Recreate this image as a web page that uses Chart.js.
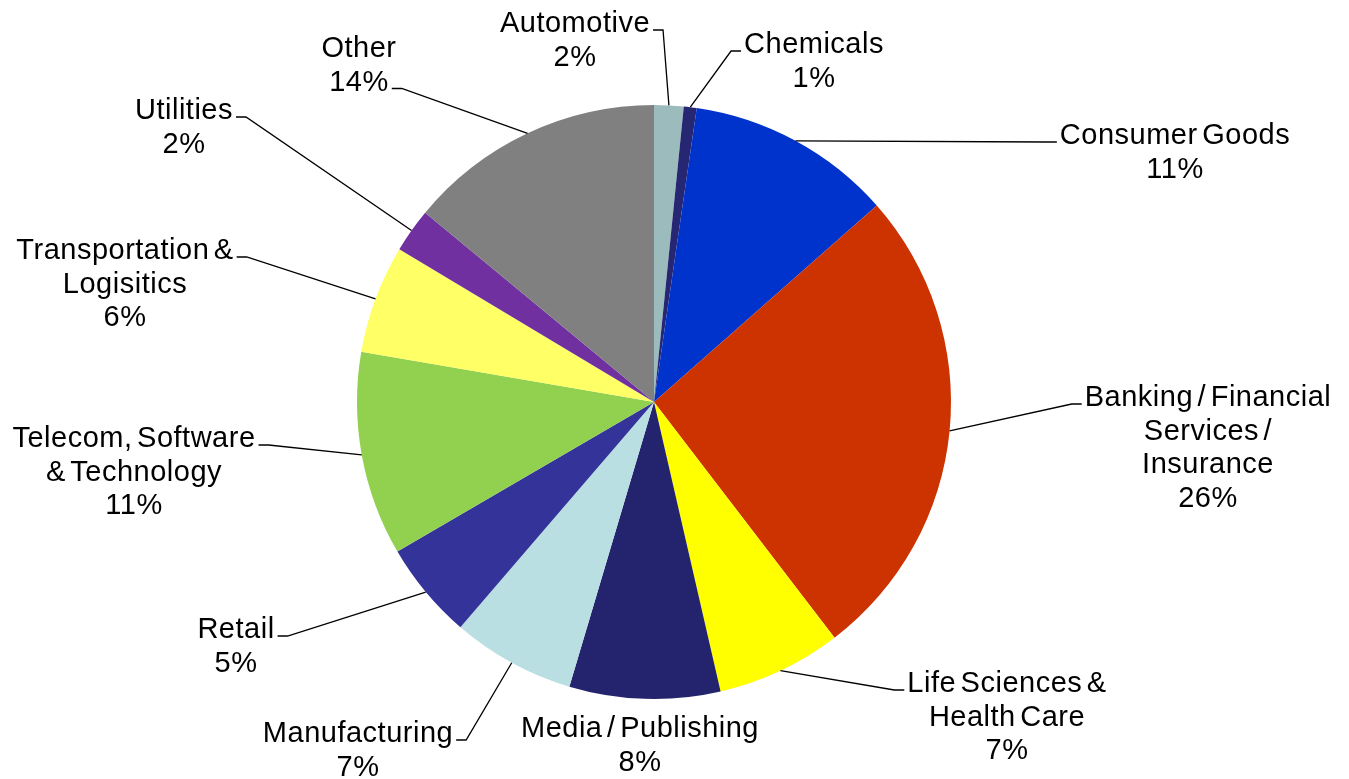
<!DOCTYPE html>
<html>
<head>
<meta charset="utf-8">
<script src="https://cdn.jsdelivr.net/npm/chart.js@4.4.0/dist/chart.umd.min.js"></script>
<style>
  html, body { margin: 0; padding: 0; background: #ffffff; }
  #wrap { width: 1349px; height: 779px; }
</style>
</head>
<body>
<div id="wrap"><canvas id="industryPie" width="1349" height="779"></canvas></div>
<script>
// industry names (multi-line where the label wraps)
const industries = [
    ['Automotive'],
    ['Chemicals'],
    ['Consumer Goods'],
    ['Banking / Financial', 'Services /', 'Insurance'],
    ['Life Sciences &', 'Health Care'],
    ['Media / Publishing'],
    ['Manufacturing'],
    ['Retail'],
    ['Telecom, Software', '& Technology'],
    ['Transportation &', 'Logisitics'],
    ['Utilities'],
    ['Other']
];

// share of each industry
const shares = [1.6, 0.7, 11.2, 26.1, 6.8, 8.2, 6.7, 5.3, 11.1, 5.9, 2.4, 14.0];

const sliceColors = [
    '#9bbbbd', '#262673', '#0033cc', '#cc3300', '#ffff00', '#24246e',
    '#b9dfe2', '#333399', '#92d050', '#ffff66', '#7030a0', '#808080'
];

// where each label sits, relative to the pie centre: [dx, dy of first baseline, line to attach, draw leader]
const labelOffsets = [
    [-79, -370, 0, true],
    [160, -349, 0, true],
    [521, -258, 0, true],
    [554, 4, 0, true],
    [353, 290, 0, true],
    [-14, 335, 0, false],
    [-296, 340, 0, true],
    [-418, 236, 0, true],
    [-520, 45, 0, true],
    [-529, -143, 0, true],
    [-470, -283, 0, true],
    [-295, -345, 1, true]
];

const total = shares.reduce((a, b) => a + b, 0);

const outsideLabels = {
    id: 'outsideLabels',
    afterDraw(chart) {
        const ctx = chart.ctx;
        const meta = chart.getDatasetMeta(0);
        const lineH = 33.5;
        ctx.save();
        ctx.font = '29px "Liberation Sans", Arial, sans-serif';
        if ('letterSpacing' in ctx) ctx.letterSpacing = '0.5px';
        if ('wordSpacing' in ctx) ctx.wordSpacing = '-4px';
        ctx.fillStyle = '#000000';
        ctx.strokeStyle = '#000000';
        ctx.lineWidth = 1.3;
        ctx.textAlign = 'center';
        ctx.textBaseline = 'alphabetic';

        meta.data.forEach((arc, i) => {
            const p = arc.getProps(['x', 'y', 'startAngle', 'endAngle', 'outerRadius'], true);
            const mid = (p.startAngle + p.endAngle) / 2;
            const sx = p.x + Math.cos(mid) * p.outerRadius;
            const sy = p.y + Math.sin(mid) * p.outerRadius;

            const [dx, dy, attach, leader] = labelOffsets[i];
            const lx = p.x + dx;
            const ly = p.y + dy;
            const pct = Math.round(shares[i] / total * 100) + '%';
            const lines = industries[i].concat([pct]);

            lines.forEach((t, k) => ctx.fillText(t, lx, ly + k * lineH));

            if (leader) {
                const w = ctx.measureText(lines[attach]).width;
                const ay = ly + attach * lineH - 2;
                let ax, ex;
                if (lx > sx) {
                    ax = lx - w / 2 - 3;
                    ex = ax - 10;
                } else {
                    ax = lx + w / 2 + 3;
                    ex = ax + 10;
                }
                ctx.beginPath();
                ctx.moveTo(sx, sy);
                ctx.lineTo(ex, ay);
                ctx.lineTo(ax, ay);
                ctx.stroke();
            }
        });
        ctx.restore();
    }
};

new Chart(document.getElementById('industryPie'), {
    type: 'pie',
    data: {
        labels: industries.map(l => l.join(' ')),
        datasets: [{
            data: shares,
            backgroundColor: sliceColors,
            borderWidth: 0
        }]
    },
    options: {
        responsive: false,
        animation: false,
        layout: {
            padding: { top: 105, bottom: 80, left: 357, right: 398 }
        },
        plugins: {
            legend: { display: false },
            tooltip: { enabled: false }
        }
    },
    plugins: [outsideLabels]
});
</script>
</body>
</html>
